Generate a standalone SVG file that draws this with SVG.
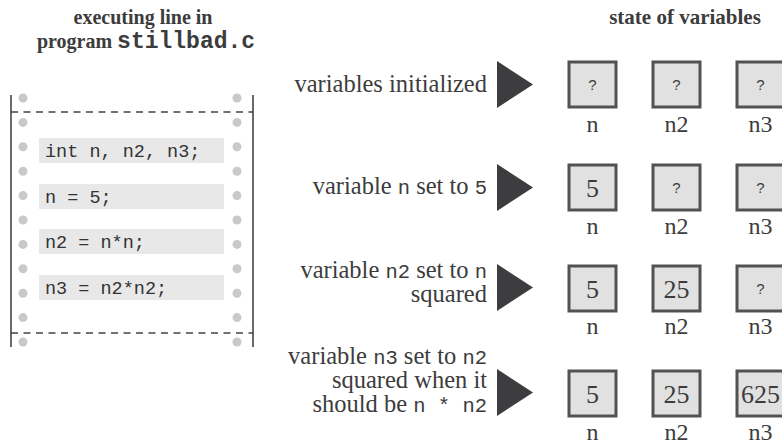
<svg xmlns="http://www.w3.org/2000/svg" width="782" height="447" viewBox="0 0 782 447">
<defs>
<style>
.serif{font-family:"Liberation Serif","Times New Roman",serif}
.title{font-family:"Liberation Serif","Times New Roman",serif;font-weight:bold;font-size:20px;fill:#3c3c3c;text-anchor:middle}
.tmono{font-family:"Liberation Mono","Courier New",monospace;font-weight:bold;font-size:23px}
.desc{font-family:"Liberation Serif","Times New Roman",serif;font-size:24.5px;fill:#3c3c3c;text-anchor:end}
.mono{font-family:"Liberation Mono","Courier New",monospace;font-size:20.5px}
.code{font-family:"Liberation Mono","Courier New",monospace;font-size:18.5px;fill:#333}
.codebg{fill:#e8e8e8}
.dot{fill:#c9c9c9}
.rail{stroke:#444;stroke-width:1.6;fill:none}
.dash{stroke:#444;stroke-width:1.5;stroke-dasharray:7 5.5;fill:none}
.arrow{fill:#3d3d3f}
.box{fill:#e1e1e1;stroke:#525252;stroke-width:3}
.q{font-family:"Liberation Sans",Arial,sans-serif;font-size:15px;fill:#3c3c3c;text-anchor:middle}
.val{font-family:"Liberation Serif","Times New Roman",serif;font-size:26px;fill:#3c3c3c;text-anchor:middle}
.lbl{font-family:"Liberation Serif","Times New Roman",serif;font-size:24px;fill:#3c3c3c;text-anchor:middle}
</style>
</defs>
<g id="titles">
<text class="title" x="143" y="24">executing line in</text>
<text class="title" x="146" y="48">program <tspan class="tmono">stillbad.c</tspan></text>
<text class="title" x="685" y="24" style="font-size:21px">state of variables</text>
</g>
<g id="program">
<line class="rail" x1="11" y1="95" x2="11" y2="347"/>
<line class="rail" x1="253" y1="95" x2="253" y2="347"/>
<line class="dash" x1="11" y1="112" x2="253" y2="112"/>
<line class="dash" x1="11" y1="333" x2="253" y2="333"/>
<g>
<circle class="dot" cx="23" cy="98" r="4.5"/><circle class="dot" cx="237" cy="98" r="4.5"/>
<circle class="dot" cx="23" cy="122.4" r="4.5"/><circle class="dot" cx="237" cy="122.4" r="4.5"/>
<circle class="dot" cx="23" cy="146.8" r="4.5"/><circle class="dot" cx="237" cy="146.8" r="4.5"/>
<circle class="dot" cx="23" cy="171.2" r="4.5"/><circle class="dot" cx="237" cy="171.2" r="4.5"/>
<circle class="dot" cx="23" cy="195.6" r="4.5"/><circle class="dot" cx="237" cy="195.6" r="4.5"/>
<circle class="dot" cx="23" cy="220" r="4.5"/><circle class="dot" cx="237" cy="220" r="4.5"/>
<circle class="dot" cx="23" cy="244.4" r="4.5"/><circle class="dot" cx="237" cy="244.4" r="4.5"/>
<circle class="dot" cx="23" cy="268.8" r="4.5"/><circle class="dot" cx="237" cy="268.8" r="4.5"/>
<circle class="dot" cx="23" cy="293.2" r="4.5"/><circle class="dot" cx="237" cy="293.2" r="4.5"/>
<circle class="dot" cx="23" cy="317.6" r="4.5"/><circle class="dot" cx="237" cy="317.6" r="4.5"/>
<circle class="dot" cx="23" cy="342" r="4.5"/><circle class="dot" cx="237" cy="342" r="4.5"/>
</g>
<g id="line1"><rect class="codebg" x="39" y="138" width="185" height="25"/><text class="code" x="45" y="156.5">int n, n2, n3;</text></g>
<g id="line2"><rect class="codebg" x="39" y="184" width="185" height="25"/><text class="code" x="45" y="202.5">n = 5;</text></g>
<g id="line3"><rect class="codebg" x="39" y="229" width="185" height="25"/><text class="code" x="45" y="247.5">n2 = n*n;</text></g>
<g id="line4"><rect class="codebg" x="39" y="275" width="185" height="25"/><text class="code" x="45" y="293.5">n3 = n2*n2;</text></g>
</g>
<g id="step1">
<text class="desc" x="487" y="92">variables initialized</text>
<polygon class="arrow" points="497,61 533,84.5 497,108"/>
<rect class="box" x="569" y="62" width="47" height="45"/><text class="q" x="592.5" y="90">?</text>
<rect class="box" x="653" y="62" width="47" height="45"/><text class="q" x="676.5" y="90">?</text>
<rect class="box" x="737" y="62" width="47" height="45"/><text class="q" x="760.5" y="90">?</text>
<text class="lbl" x="592.5" y="132">n</text><text class="lbl" x="676.5" y="132">n2</text><text class="lbl" x="760.5" y="132">n3</text>
</g>
<g id="step2">
<text class="desc" x="487" y="194">variable <tspan class="mono">n</tspan> set to <tspan class="mono">5</tspan></text>
<polygon class="arrow" points="497,164 533,187.5 497,211"/>
<rect class="box" x="569" y="165" width="47" height="45"/><text class="val" x="592.5" y="197">5</text>
<rect class="box" x="653" y="165" width="47" height="45"/><text class="q" x="676.5" y="193">?</text>
<rect class="box" x="737" y="165" width="47" height="45"/><text class="q" x="760.5" y="193">?</text>
<text class="lbl" x="592.5" y="234">n</text><text class="lbl" x="676.5" y="234">n2</text><text class="lbl" x="760.5" y="234">n3</text>
</g>
<g id="step3">
<text class="desc" x="487" y="278">variable <tspan class="mono">n2</tspan> set to <tspan class="mono">n</tspan></text>
<text class="desc" x="487" y="302">squared</text>
<polygon class="arrow" points="497,264 533,287.5 497,311"/>
<rect class="box" x="569" y="266" width="47" height="45"/><text class="val" x="592.5" y="298">5</text>
<rect class="box" x="653" y="266" width="47" height="45"/><text class="val" x="676.5" y="298">25</text>
<rect class="box" x="737" y="266" width="47" height="45"/><text class="q" x="760.5" y="294">?</text>
<text class="lbl" x="592.5" y="334">n</text><text class="lbl" x="676.5" y="334">n2</text><text class="lbl" x="760.5" y="334">n3</text>
</g>
<g id="step4">
<text class="desc" x="487" y="364">variable <tspan class="mono">n3</tspan> set to <tspan class="mono">n2</tspan></text>
<text class="desc" x="487" y="388">squared when it</text>
<text class="desc" x="487" y="412">should be <tspan class="mono">n * n2</tspan></text>
<polygon class="arrow" points="497,369 533,392.5 497,416"/>
<rect class="box" x="569" y="371" width="47" height="45"/><text class="val" x="592.5" y="403">5</text>
<rect class="box" x="653" y="371" width="47" height="45"/><text class="val" x="676.5" y="403">25</text>
<rect class="box" x="737" y="371" width="47" height="45"/><text class="val" x="760.5" y="403">625</text>
<text class="lbl" x="592.5" y="440">n</text><text class="lbl" x="676.5" y="440">n2</text><text class="lbl" x="760.5" y="440">n3</text>
</g>
</svg>
